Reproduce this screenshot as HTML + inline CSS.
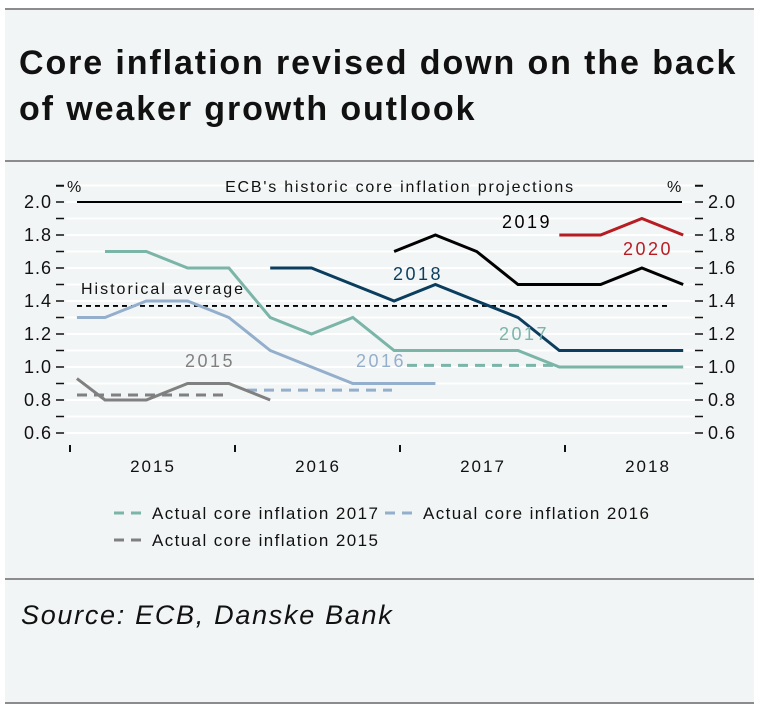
<!DOCTYPE html>
<html><head><meta charset="utf-8"><style>
body{margin:0;width:759px;height:708px;background:#fff;font-family:"Liberation Sans",sans-serif;overflow:hidden}
#wrap{position:absolute;left:5px;top:8px;width:749px;height:692px;background:#f2f5f6;border-top:2px solid #8c8c8c;border-bottom:2px solid #8c8c8c}
.hr{position:absolute;left:0;width:749px;height:2px;background:#8c8c8c}
h1{position:absolute;left:14px;top:30px;margin:0;font-size:34px;line-height:46px;font-weight:bold;color:#111;letter-spacing:1.9px}
#src{position:absolute;left:16px;top:590px;font-size:27px;font-style:italic;color:#111;letter-spacing:1.7px}
svg{position:absolute;left:0;top:0}
</style></head><body>
<div id="wrap">
<h1>Core inflation revised down on the back<br>of weaker growth outlook</h1>
<div class="hr" style="top:150px"></div>
<div class="hr" style="top:568px"></div>
<div id="src">Source: ECB, Danske Bank</div>
</div>
<svg id="chart" width="759" height="708"></svg>
<script>
const yTicks=[0.6,0.8,1.0,1.2,1.4,1.6,1.8,2.0];
const years=["2015","2016","2017","2018"];
const q2015=[-0.68,0,1,2,3,4]; const v2015=[0.93,0.8,0.8,0.9,0.9,0.8];
const q2016=[-0.68,0,1,2,3,4,5,6,7,8]; const v2016=[1.3,1.3,1.4,1.4,1.3,1.1,1.0,0.9,0.9,0.9];
const q2017=[0,1,2,3,4,5,6,7,8,9,10,11,12,13,14]; const v2017=[1.7,1.7,1.6,1.6,1.3,1.2,1.3,1.1,1.1,1.1,1.1,1.0,1.0,1.0,1.0];
const q2018=[4,5,6,7,8,9,10,11,12,13,14]; const v2018=[1.6,1.6,1.5,1.4,1.5,1.4,1.3,1.1,1.1,1.1,1.1];
const q2019=[7,8,9,10,11,12,13,14]; const v2019=[1.7,1.8,1.7,1.5,1.5,1.5,1.6,1.5];
const q2020=[11,12,13,14]; const v2020=[1.8,1.8,1.9,1.8];
const actual2015=0.83, actual2016=0.86, actual2017=1.01, histAvg=1.37, topLine=2.0;
const NS="http://www.w3.org/2000/svg", svg=document.getElementById('chart');
const X=q=>105+41.3*q, Y=v=>202+(2.0-v)*165;
function el(t,a,txt){const e=document.createElementNS(NS,t);for(const k in a)e.setAttribute(k,a[k]);if(txt!==undefined)e.textContent=txt;svg.appendChild(e);return e;}
for(let i=0;i<=15;i++){const v=0.6+i*0.1;const g=el('line',{x1:66,x2:694,y1:Y(v),y2:Y(v),stroke:'#fff','stroke-width':2});

}
for(let i=0;i<=15;i++){const v=0.6+i*0.1;
el('line',{x1:56,x2:64,y1:Y(v),y2:Y(v),stroke:'#111','stroke-width':1.5});
el('line',{x1:695,x2:703,y1:Y(v),y2:Y(v),stroke:'#111','stroke-width':1.5});}
el('line',{x1:56,x2:64,y1:186,y2:186,stroke:'#111','stroke-width':1.5});
el('line',{x1:695,x2:703,y1:186,y2:186,stroke:'#111','stroke-width':1.5});
yTicks.forEach(v=>{const a=el('text',{x:52,y:Y(v)+6,'text-anchor':'end','font-size':18,'letter-spacing':1,fill:'#111'},v.toFixed(1));


const b=el('text',{x:708,y:Y(v)+6,'font-size':18,'letter-spacing':1,fill:'#111'},v.toFixed(1));

});
el('text',{x:67,y:192,'font-size':16,fill:'#111'},'%');
el('text',{x:667,y:192,'font-size':16,fill:'#111'},'%');
const t=el('text',{x:400,y:192,'text-anchor':'middle','font-size':16,'letter-spacing':1.8,fill:'#111'},"ECB's historic core inflation projections");


years.forEach((y,i)=>{const x0=70+165*i;
el('line',{x1:x0,x2:x0,y1:445,y2:452,stroke:'#111','stroke-width':2});
const lb=el('text',{x:x0+83,y:472,'text-anchor':'middle','font-size':17,'letter-spacing':2,fill:'#111'},y);

});
function hline(v,x1,x2,col,dash,w,name){const l=el('line',{x1:x1,x2:x2,y1:Y(v),y2:Y(v),stroke:col,'stroke-width':w,'stroke-dasharray':dash||'none'});

}
hline(topLine,77,682,'#000','',2,'two-percent-line');
hline(histAvg,77,670,'#000','5,4',1.8,'historical-average-line');
hline(actual2015,77,228,'#808080','10,7',3,'actual-2015-line');
hline(actual2016,247,392,'#94afcc','10,7',3,'actual-2016-line');
hline(actual2017,407,556,'#7ab5a8','10,7',3,'actual-2017-line');
function series(qs,vs,col,name){const p=el('polyline',{points:qs.map((q,i)=>X(q)+','+Y(vs[i])).join(' '),fill:'none',stroke:col,'stroke-width':3});

}
series(q2015,v2015,'#808080','series-2015');
series(q2016,v2016,'#94afcc','series-2016');
series(q2017,v2017,'#7ab5a8','series-2017');
series(q2018,v2018,'#0b3d5e','series-2018');
series(q2019,v2019,'#000','series-2019');
series(q2020,v2020,'#b81c23','series-2020');
function lab(x,y,s,col,fs,ls){const l=el('text',{x:x,y:y,'font-size':fs||18,'letter-spacing':ls===undefined?2.5:ls,fill:col},s);

}
lab(81,294,'Historical average','#111',16,2);
lab(185,367,'2015','#808080');lab(356,367,'2016','#94afcc');lab(499,340,'2017','#7ab5a8');
lab(393,280,'2018','#0b3d5e');lab(502,228,'2019','#000');lab(623,255,'2020','#b81c23');
function leg(x,y,col,s){const l=el('line',{x1:x,x2:x+34,y1:y,y2:y,stroke:col,'stroke-width':3,'stroke-dasharray':'10,7'});


const tx=el('text',{x:x+38,y:y+6,'font-size':17,'letter-spacing':1.4,fill:'#111'},s);

}
leg(114,513,'#7ab5a8','Actual core inflation 2017');
leg(385,513,'#94afcc','Actual core inflation 2016');
leg(114,540,'#808080','Actual core inflation 2015');
</script>
</body></html>
